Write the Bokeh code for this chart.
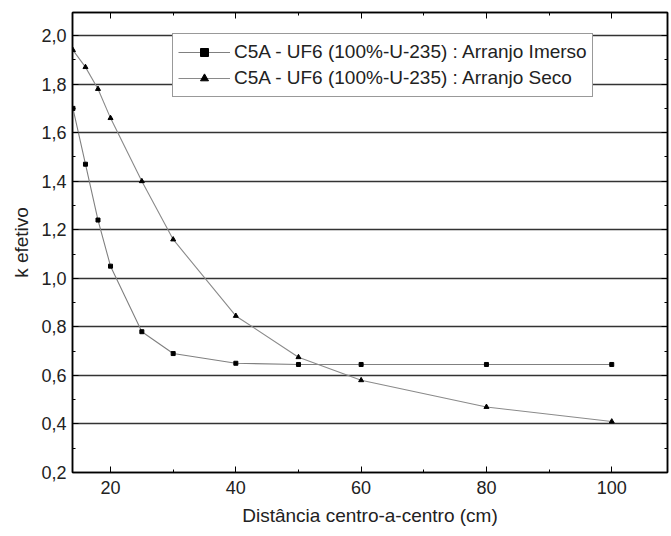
from bokeh.plotting import figure
from bokeh.models import (LinearAxis, FixedTicker, CustomJSTickFormatter, Legend, LegendItem, Range1d)
from bokeh.embed import file_html
from bokeh.resources import INLINE

# Data
dist_imerso = [14, 16, 18, 20, 25, 30, 40, 50, 60, 80, 100]
keff_imerso = [1.70, 1.47, 1.24, 1.05, 0.78, 0.69, 0.65, 0.645, 0.645, 0.645, 0.645]
dist_seco = [14, 16, 18, 20, 25, 30, 40, 50, 60, 80, 100]
keff_seco = [1.94, 1.87, 1.78, 1.66, 1.40, 1.16, 0.845, 0.675, 0.58, 0.47, 0.41]

y_ticks = [0.2, 0.4, 0.6, 0.8, 1.0, 1.2, 1.4, 1.6, 1.8, 2.0]
y_minor = [0.3, 0.5, 0.7, 0.9, 1.1, 1.3, 1.5, 1.7, 1.9]
x_ticks = [20, 40, 60, 80, 100]
x_minor = [30, 50, 70, 90]
label_imerso = "C5A - UF6 (100%-U-235) : Arranjo Imerso"
label_seco = "C5A - UF6 (100%-U-235) : Arranjo Seco"

FONT = "Liberation Sans"

p = figure(width=670, height=534, output_backend="svg", toolbar_location=None,
           x_range=Range1d(13.93, 108.9), y_range=Range1d(0.2, 2.095),
           min_border_left=72, min_border_right=3, min_border_top=12, min_border_bottom=62)
p.outline_line_color = "black"
p.outline_line_width = 1.5

fmt = CustomJSTickFormatter(code="return tick.toFixed(1).replace('.', ',');")

for ax in (p.xaxis[0], p.yaxis[0]):
    ax.major_tick_in = 6
    ax.major_tick_out = 0
    ax.minor_tick_in = 3
    ax.minor_tick_out = 0
    ax.axis_line_width = 1.5
    ax.major_label_text_font = FONT
    ax.major_label_text_font_size = "18px"
    ax.major_label_text_color = "#222"
    ax.axis_label_text_font = FONT
    ax.axis_label_text_font_size = "19px"
    ax.axis_label_text_font_style = "normal"
    ax.axis_label_text_color = "#222"

p.xaxis[0].ticker = FixedTicker(ticks=x_ticks, minor_ticks=x_minor)
p.yaxis[0].ticker = FixedTicker(ticks=y_ticks, minor_ticks=y_minor)
p.yaxis[0].formatter = fmt
p.xaxis[0].axis_label = "Distância centro-a-centro (cm)"
p.yaxis[0].axis_label = "k efetivo"
p.xaxis[0].major_label_standoff = 8
p.xaxis[0].axis_label_standoff = 8
p.yaxis[0].major_label_standoff = 6
p.yaxis[0].axis_label_standoff = 6

top = LinearAxis(ticker=FixedTicker(ticks=x_ticks, minor_ticks=x_minor),
                 major_label_text_font_size="0px", major_tick_in=6, major_tick_out=0,
                 minor_tick_in=3, minor_tick_out=0, axis_line_width=1.5)
right = LinearAxis(ticker=FixedTicker(ticks=y_ticks, minor_ticks=y_minor),
                   major_label_text_font_size="0px", major_tick_in=6, major_tick_out=0,
                   minor_tick_in=3, minor_tick_out=0, axis_line_width=1.5)
p.add_layout(top, "above")
p.add_layout(right, "right")

p.xgrid.visible = False
p.ygrid.ticker = FixedTicker(ticks=y_ticks)
p.ygrid.grid_line_color = "#333333"
p.ygrid.grid_line_width = 1.6

l1 = p.line(dist_imerso, keff_imerso, line_color="#808080", line_width=1.1)
m1 = p.scatter(dist_imerso, keff_imerso, marker="square", size=4, fill_color="black", line_color="black")
l2 = p.line(dist_seco, keff_seco, line_color="#8a8a8a", line_width=1.1)
m2 = p.scatter(dist_seco, keff_seco, marker="triangle", size=5, fill_color="black", line_color="black")

legend = Legend(items=[LegendItem(label=label_imerso, renderers=[l1, m1]),
                       LegendItem(label=label_seco, renderers=[l2, m2])],
                location=(100, 375), orientation="vertical")
legend.label_text_font = FONT
legend.label_text_font_size = "19px"
legend.label_text_color = "#222"
legend.border_line_color = "#333"
legend.border_line_width = 1.5
legend.background_fill_alpha = 1.0
legend.glyph_width = 52
legend.label_standoff = 4
legend.spacing = 0
legend.padding = 5
legend.margin = 0
legend.label_height = 26
p.add_layout(legend, "center")

open("out.html", "w").write(file_html(p, INLINE))
